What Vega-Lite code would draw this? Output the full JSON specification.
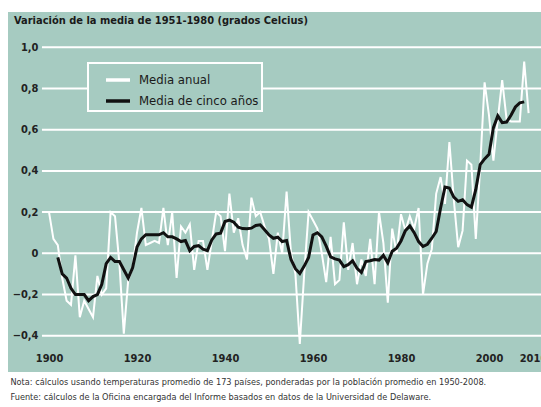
{
  "$schema": "https://vega.github.io/schema/vega-lite/v6.json",
  "width": 533,
  "height": 360,
  "autosize": {"type": "none"},
  "padding": {"left": 8, "top": 12, "right": 0, "bottom": 35},
  "background": "white",
  "title": {
    "text": "Variación de la media de 1951-1980 (grados Celcius)",
    "anchor": "start",
    "frame": "group",
    "offset": -14,
    "dx": 6,
    "fontSize": 11,
    "fontWeight": "bold",
    "color": "#1a1a1a",
    "font": "DejaVu Sans Condensed, Liberation Sans Narrow, Roboto, sans-serif"
  },
  "config": {"view": {"fill": "#a6cbc1", "stroke": null}},
  "datasets": {
    "grid": [{"v": -0.4}, {"v": -0.2}, {"v": 0}, {"v": 0.2}, {"v": 0.4}, {"v": 0.6}, {"v": 0.8}, {"v": 1.0}],
    "anual": [
      {"a": 1900, "v": 0.20}, {"a": 1901, "v": 0.07}, {"a": 1902, "v": 0.04}, {"a": 1903, "v": -0.12},
      {"a": 1904, "v": -0.23}, {"a": 1905, "v": -0.25}, {"a": 1906, "v": -0.01}, {"a": 1907, "v": -0.31},
      {"a": 1908, "v": -0.23}, {"a": 1909, "v": -0.27}, {"a": 1910, "v": -0.31}, {"a": 1911, "v": -0.11},
      {"a": 1912, "v": -0.20}, {"a": 1913, "v": -0.17}, {"a": 1914, "v": 0.20}, {"a": 1915, "v": 0.18},
      {"a": 1916, "v": -0.05}, {"a": 1917, "v": -0.39}, {"a": 1918, "v": -0.13}, {"a": 1919, "v": -0.07},
      {"a": 1920, "v": 0.10}, {"a": 1921, "v": 0.22}, {"a": 1922, "v": 0.04}, {"a": 1923, "v": 0.05},
      {"a": 1924, "v": 0.06}, {"a": 1925, "v": 0.05}, {"a": 1926, "v": 0.22}, {"a": 1927, "v": 0.04},
      {"a": 1928, "v": 0.20}, {"a": 1929, "v": -0.12}, {"a": 1930, "v": 0.13}, {"a": 1931, "v": 0.10},
      {"a": 1932, "v": 0.14}, {"a": 1933, "v": -0.08}, {"a": 1934, "v": 0.06}, {"a": 1935, "v": 0.06},
      {"a": 1936, "v": -0.08}, {"a": 1937, "v": 0.06}, {"a": 1938, "v": 0.20}, {"a": 1939, "v": 0.18},
      {"a": 1940, "v": 0.01}, {"a": 1941, "v": 0.29}, {"a": 1942, "v": 0.10}, {"a": 1943, "v": 0.17},
      {"a": 1944, "v": 0.04}, {"a": 1945, "v": -0.03}, {"a": 1946, "v": 0.27}, {"a": 1947, "v": 0.18},
      {"a": 1948, "v": 0.20}, {"a": 1949, "v": 0.13}, {"a": 1950, "v": 0.07}, {"a": 1951, "v": -0.10},
      {"a": 1952, "v": 0.10}, {"a": 1953, "v": 0.00}, {"a": 1954, "v": 0.30}, {"a": 1955, "v": 0.00},
      {"a": 1956, "v": -0.10}, {"a": 1957, "v": -0.44}, {"a": 1958, "v": -0.10}, {"a": 1959, "v": 0.20},
      {"a": 1960, "v": 0.16}, {"a": 1961, "v": 0.12}, {"a": 1962, "v": 0.00}, {"a": 1963, "v": -0.14},
      {"a": 1964, "v": 0.08}, {"a": 1965, "v": -0.15}, {"a": 1966, "v": -0.13}, {"a": 1967, "v": 0.15},
      {"a": 1968, "v": -0.08}, {"a": 1969, "v": 0.05}, {"a": 1970, "v": -0.15}, {"a": 1971, "v": -0.03},
      {"a": 1972, "v": -0.11}, {"a": 1973, "v": 0.07}, {"a": 1974, "v": -0.15}, {"a": 1975, "v": 0.20},
      {"a": 1976, "v": 0.05}, {"a": 1977, "v": -0.24}, {"a": 1978, "v": 0.12}, {"a": 1979, "v": 0.00},
      {"a": 1980, "v": 0.19}, {"a": 1981, "v": 0.11}, {"a": 1982, "v": 0.18}, {"a": 1983, "v": 0.12},
      {"a": 1984, "v": 0.22}, {"a": 1985, "v": -0.20}, {"a": 1986, "v": -0.05}, {"a": 1987, "v": 0.02},
      {"a": 1988, "v": 0.29}, {"a": 1989, "v": 0.37}, {"a": 1990, "v": 0.24}, {"a": 1991, "v": 0.54},
      {"a": 1992, "v": 0.26}, {"a": 1993, "v": 0.03}, {"a": 1994, "v": 0.11}, {"a": 1995, "v": 0.45},
      {"a": 1996, "v": 0.43}, {"a": 1997, "v": 0.07}, {"a": 1998, "v": 0.42}, {"a": 1999, "v": 0.83},
      {"a": 2000, "v": 0.67}, {"a": 2001, "v": 0.45}, {"a": 2002, "v": 0.65}, {"a": 2003, "v": 0.84},
      {"a": 2004, "v": 0.65}, {"a": 2005, "v": 0.64}, {"a": 2006, "v": 0.64}, {"a": 2007, "v": 0.64},
      {"a": 2008, "v": 0.93}, {"a": 2009, "v": 0.68}
    ],
    "quinq": [
      {"a": 1902, "v": -0.02}, {"a": 1903, "v": -0.10}, {"a": 1904, "v": -0.12}, {"a": 1905, "v": -0.17},
      {"a": 1906, "v": -0.20}, {"a": 1907, "v": -0.20}, {"a": 1908, "v": -0.20}, {"a": 1909, "v": -0.23},
      {"a": 1910, "v": -0.21}, {"a": 1911, "v": -0.20}, {"a": 1912, "v": -0.15}, {"a": 1913, "v": -0.05},
      {"a": 1914, "v": -0.02}, {"a": 1915, "v": -0.04}, {"a": 1916, "v": -0.04}, {"a": 1917, "v": -0.08},
      {"a": 1918, "v": -0.12}, {"a": 1919, "v": -0.07}, {"a": 1920, "v": 0.03}, {"a": 1921, "v": 0.07},
      {"a": 1922, "v": 0.09}, {"a": 1923, "v": 0.09}, {"a": 1924, "v": 0.09}, {"a": 1925, "v": 0.09},
      {"a": 1926, "v": 0.10}, {"a": 1927, "v": 0.08}, {"a": 1928, "v": 0.08}, {"a": 1929, "v": 0.07},
      {"a": 1930, "v": 0.057}, {"a": 1931, "v": 0.062}, {"a": 1932, "v": 0.013}, {"a": 1933, "v": 0.033},
      {"a": 1934, "v": 0.037}, {"a": 1935, "v": 0.02}, {"a": 1936, "v": 0.013}, {"a": 1937, "v": 0.065},
      {"a": 1938, "v": 0.094}, {"a": 1939, "v": 0.098}, {"a": 1940, "v": 0.154}, {"a": 1941, "v": 0.161},
      {"a": 1942, "v": 0.151}, {"a": 1943, "v": 0.127}, {"a": 1944, "v": 0.12}, {"a": 1945, "v": 0.119},
      {"a": 1946, "v": 0.122}, {"a": 1947, "v": 0.135}, {"a": 1948, "v": 0.138}, {"a": 1949, "v": 0.114},
      {"a": 1950, "v": 0.089}, {"a": 1951, "v": 0.073}, {"a": 1952, "v": 0.078}, {"a": 1953, "v": 0.057},
      {"a": 1954, "v": 0.062}, {"a": 1955, "v": -0.03}, {"a": 1956, "v": -0.075}, {"a": 1957, "v": -0.098},
      {"a": 1958, "v": -0.062}, {"a": 1959, "v": -0.02}, {"a": 1960, "v": 0.089}, {"a": 1961, "v": 0.10},
      {"a": 1962, "v": 0.08}, {"a": 1963, "v": 0.035}, {"a": 1964, "v": -0.017}, {"a": 1965, "v": -0.027},
      {"a": 1966, "v": -0.033}, {"a": 1967, "v": -0.065}, {"a": 1968, "v": -0.055}, {"a": 1969, "v": -0.036},
      {"a": 1970, "v": -0.073}, {"a": 1971, "v": -0.093}, {"a": 1972, "v": -0.04}, {"a": 1973, "v": -0.036},
      {"a": 1974, "v": -0.03}, {"a": 1975, "v": -0.033}, {"a": 1976, "v": -0.01}, {"a": 1977, "v": -0.046},
      {"a": 1978, "v": 0.01}, {"a": 1979, "v": 0.025}, {"a": 1980, "v": 0.06}, {"a": 1981, "v": 0.11},
      {"a": 1982, "v": 0.133}, {"a": 1983, "v": 0.10}, {"a": 1984, "v": 0.057}, {"a": 1985, "v": 0.033},
      {"a": 1986, "v": 0.044}, {"a": 1987, "v": 0.073}, {"a": 1988, "v": 0.106}, {"a": 1989, "v": 0.22},
      {"a": 1990, "v": 0.322}, {"a": 1991, "v": 0.317}, {"a": 1992, "v": 0.273}, {"a": 1993, "v": 0.252},
      {"a": 1994, "v": 0.26}, {"a": 1995, "v": 0.236}, {"a": 1996, "v": 0.224}, {"a": 1997, "v": 0.31},
      {"a": 1998, "v": 0.43}, {"a": 1999, "v": 0.458}, {"a": 2000, "v": 0.48}, {"a": 2001, "v": 0.61},
      {"a": 2002, "v": 0.667}, {"a": 2003, "v": 0.634}, {"a": 2004, "v": 0.637}, {"a": 2005, "v": 0.67},
      {"a": 2006, "v": 0.71}, {"a": 2007, "v": 0.73}, {"a": 2008, "v": 0.735}
    ]
  },
  "layer": [
    {
      "data": {"name": "grid"},
      "mark": {"type": "rule", "color": "white", "strokeWidth": 2},
      "encoding": {
        "x": {"datum": 1898.4, "type": "quantitative",
              "scale": {"domain": [1890.68, 2011.82], "nice": false, "zero": false},
              "axis": {"values": [1900, 1920, 1940, 1960, 1980, 2000, 2010], "format": "d", "orient": "bottom", "offset": -22,
                       "domain": false, "ticks": false, "grid": false, "labelPadding": 2, "labelFlush": false, "labelOverlap": false,
                       "labelFont": "DejaVu Sans Condensed, Liberation Sans Narrow, Roboto, sans-serif", "labelFontSize": 11, "labelFontWeight": "bold", "labelColor": "#222",
                       "title": ["Nota: cálculos usando temperaturas promedio de 173 países, ponderadas por la población promedio en 1950-2008.", "Fuente: cálculos de la Oficina encargada del Informe basados en datos de la Universidad de Delaware."],
                       "titleFont": "DejaVu Sans Condensed, Liberation Sans Narrow, Roboto, sans-serif", "titleFontSize": 9.1, "titleFontWeight": "normal", "titleColor": "#333",
                       "titleAnchor": "start", "titleAlign": "left", "titleBaseline": "top", "titlePadding": 14, "titleLineHeight": 15, "titleX": 2}},
        "x2": {"datum": 2012},
        "y": {"field": "v", "type": "quantitative",
              "scale": {"domain": [-0.576, 1.171], "nice": false, "zero": false},
              "axis": {"values": [-0.4, -0.2, 0, 0.2, 0.4, 0.6, 0.8, 1.0], "orient": "left", "offset": -33, "domain": false, "ticks": false, "grid": false,
                       "labelPadding": 3, "labelExpr": "datum.value == 0 ? '0' : replace(format(datum.value, '.1f'), '.', ',')",
                       "labelFont": "DejaVu Sans Condensed, Liberation Sans Narrow, Roboto, sans-serif", "labelFontSize": 11, "labelFontWeight": "bold", "labelColor": "#222", "title": null}}
      }
    },
    {
      "data": {"name": "anual"},
      "mark": {"type": "line", "strokeWidth": 2},
      "encoding": {
        "x": {"field": "a", "type": "quantitative"},
        "y": {"field": "v", "type": "quantitative"},
        "color": {"datum": "Media anual", "type": "nominal",
                  "scale": {"domain": ["Media anual", "Media de cinco años"], "range": ["#ffffff", "#111111"]},
                  "legend": {"orient": "none", "legendX": 80, "legendY": 51, "title": null, "strokeColor": "white", "fillColor": "#a6cbc1",
                             "padding": 3, "symbolType": "stroke", "symbolSize": 576, "symbolStrokeWidth": 3.5, "symbolOffset": 13,
                             "labelOffset": 7, "rowPadding": -2,
                             "labelFont": "DejaVu Sans Condensed, Liberation Sans Narrow, Roboto, sans-serif", "labelFontSize": 13, "labelColor": "#1a1a1a",
                             "encode": {"legend": {"update": {"strokeWidth": {"value": 2}, "width": {"value": 178}}}}}}
      }
    },
    {
      "data": {"name": "quinq"},
      "mark": {"type": "line", "strokeWidth": 3},
      "encoding": {
        "x": {"field": "a", "type": "quantitative"},
        "y": {"field": "v", "type": "quantitative"},
        "color": {"datum": "Media de cinco años", "type": "nominal"}
      }
    }
  ]
}
